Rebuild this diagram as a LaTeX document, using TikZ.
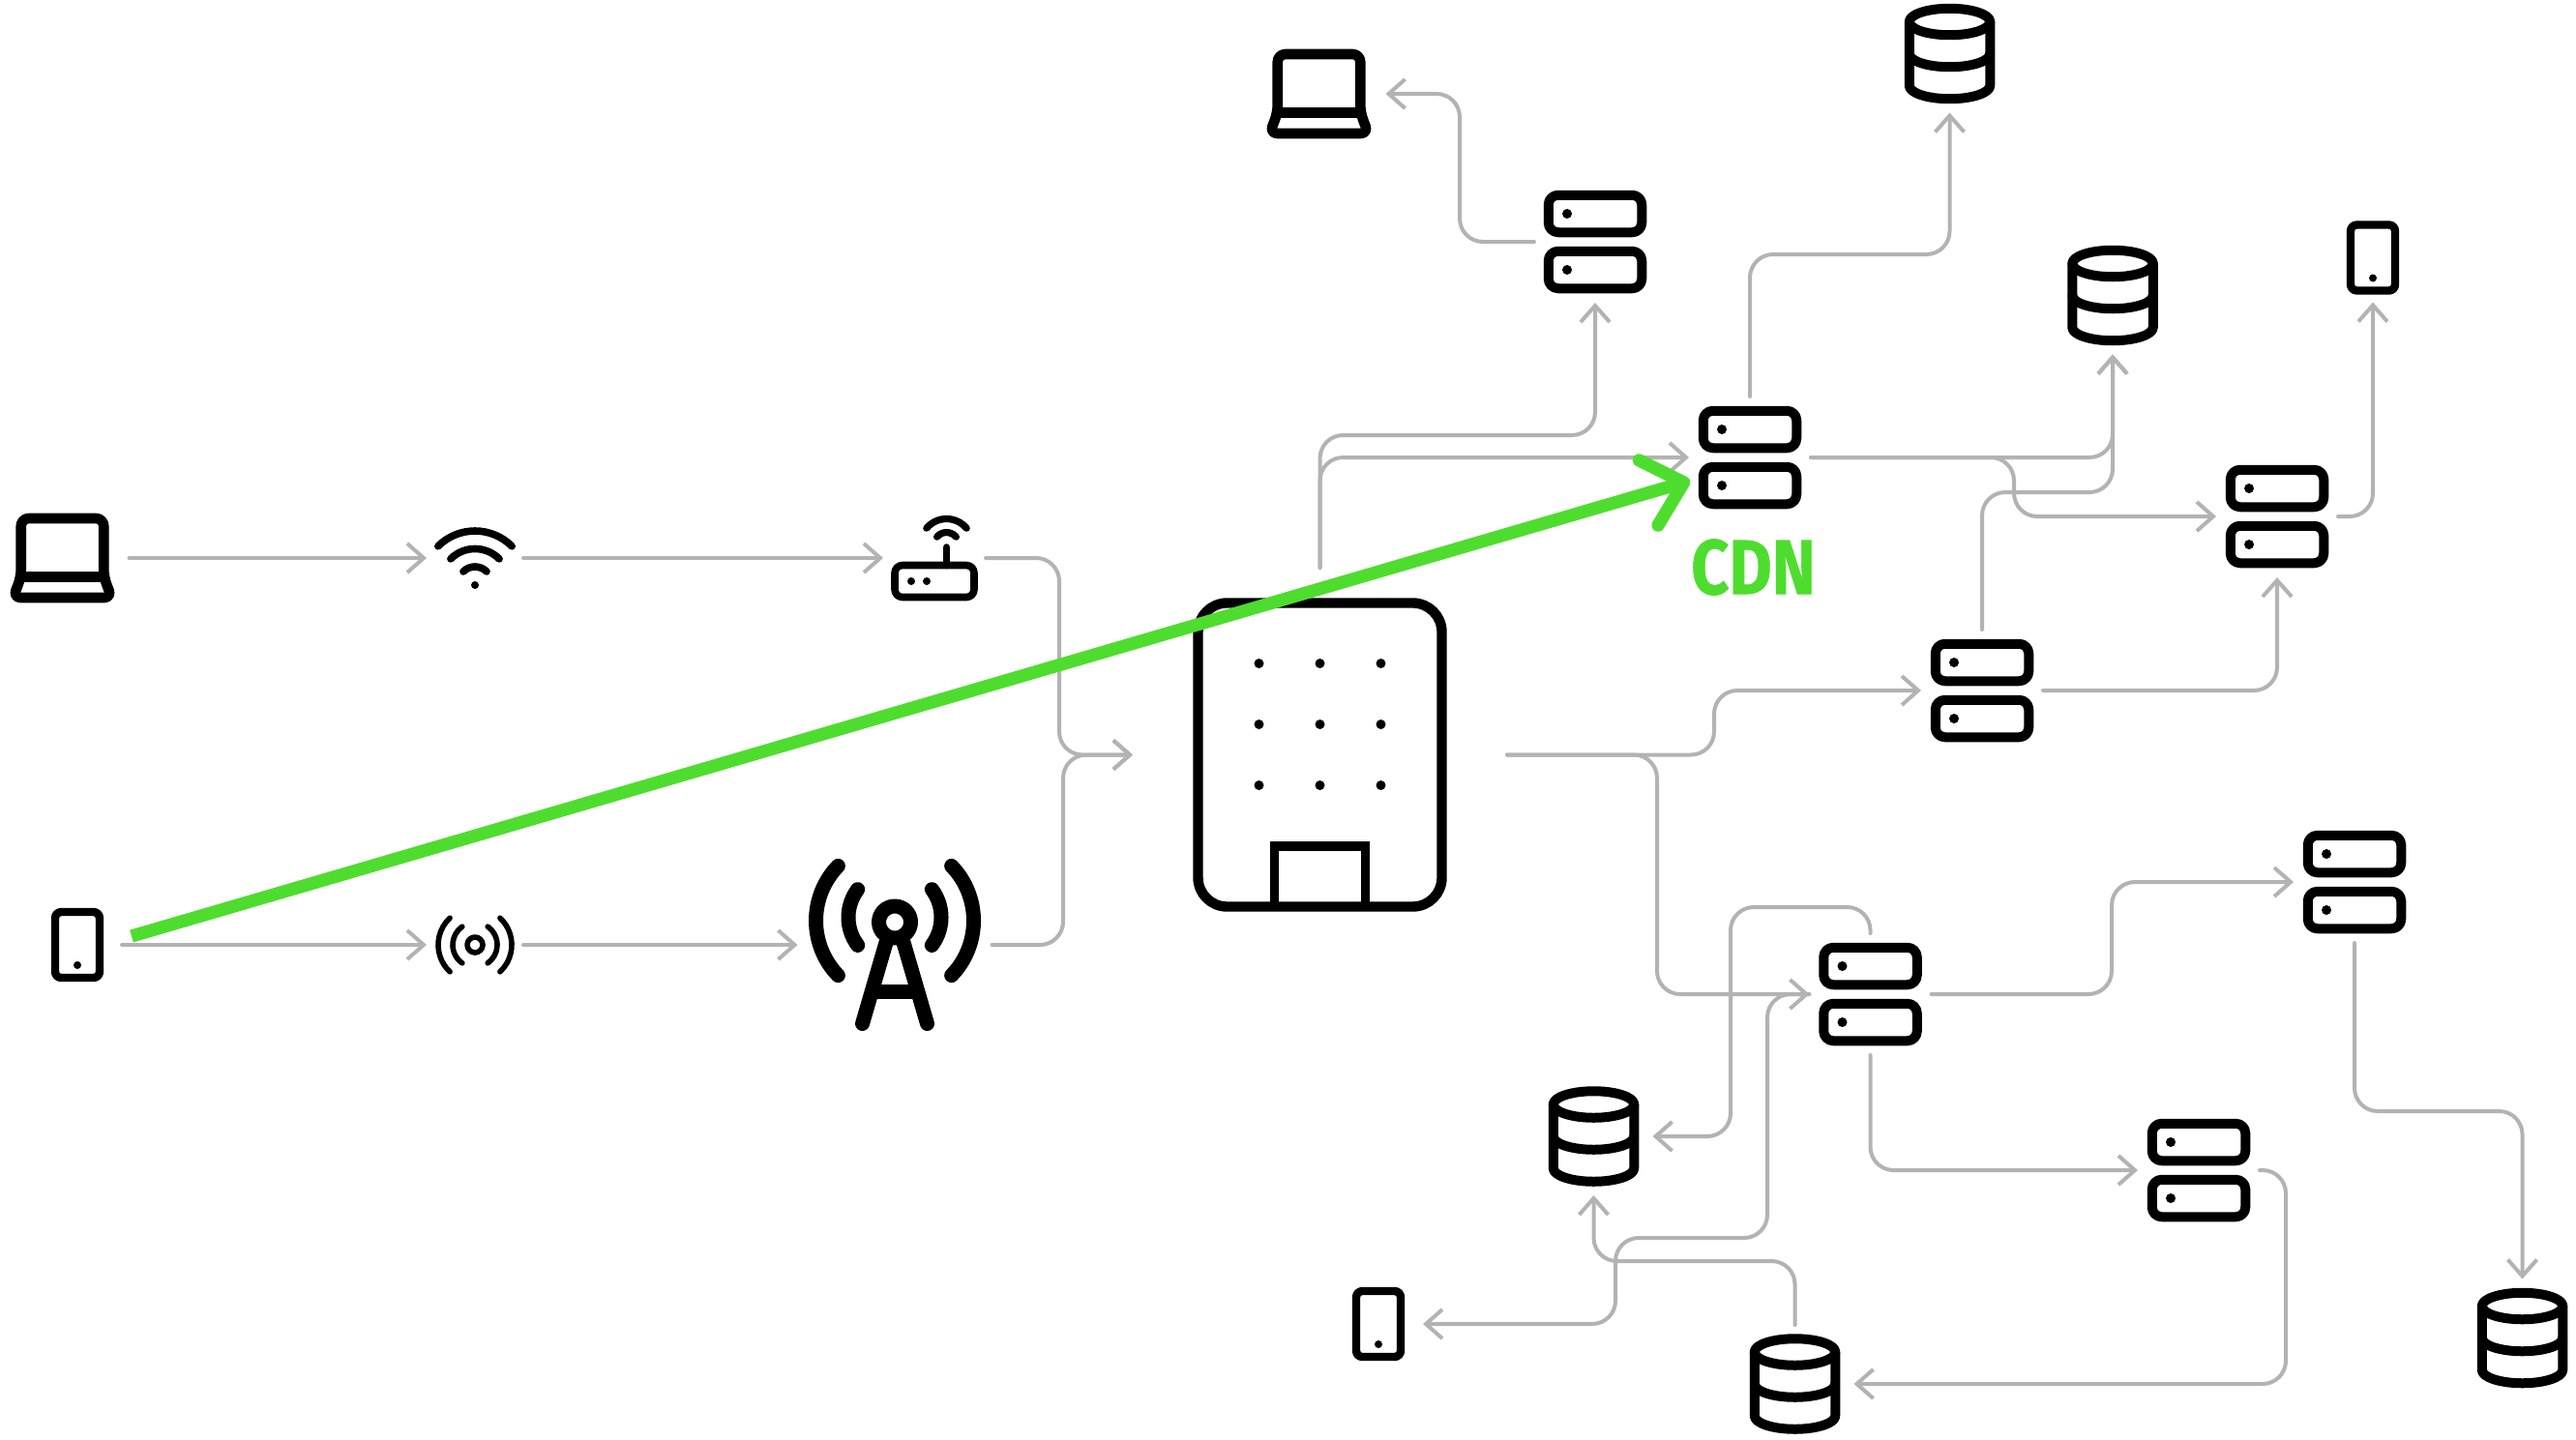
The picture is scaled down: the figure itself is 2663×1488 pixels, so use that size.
\documentclass[tikz,border=0pt]{standalone}
\usepackage{fontspec}
\usetikzlibrary{arrows.meta}
\usepackage{xcolor}
\definecolor{accent}{RGB}{78,221,46}
\definecolor{wire}{RGB}{179,179,179}
\newfontfamily\cdnfont[FakeStretch=0.85,FakeBold=0.8]{Fira Sans}
\tikzset{
  netlink/.style={draw=wire, line width=1pt, line cap=round, rounded corners=6pt,
    -{Straight Barb[length=4.25pt,width=7.5pt]}},
  cdnlink/.style={draw=accent, line width=3.3pt,
    -{Straight Barb[length=9.5pt,width=17.5pt,round]}},
  anchorbox/.style={inner sep=0pt, outer sep=0pt, draw=none},
  serverbox/.style={anchorbox, minimum width=31.5pt, minimum height=31.5pt},
  dbbox/.style={anchorbox, minimum width=30.5pt, minimum height=30.5pt},
  phonebox/.style={anchorbox, minimum width=23pt, minimum height=23pt},
  laptopbox/.style={anchorbox, minimum width=34.5pt, minimum height=34.5pt},
  wifibox/.style={anchorbox, minimum width=25pt, minimum height=25pt},
  routerbox/.style={anchorbox, minimum width=26.5pt, minimum height=26.5pt},
  towerbox/.style={anchorbox, minimum width=50.25pt, minimum height=50.25pt},
  buildingbox/.style={anchorbox, minimum width=96.75pt, minimum height=96.75pt},
  icon/.style={draw=black, line width=2.5pt, line join=round, line cap=round},
  pics/serverpic/.style={code={
    \draw[icon, rounded corners=2.5pt] (-48.25,-48.25) rectangle (48.25,-9.75);
    \draw[icon, rounded corners=2.5pt] (-48.25,9.75) rectangle (48.25,48.25);
    \fill (-29,-29) circle[radius=5];
    \fill (-29,29) circle[radius=5];
  }},
  pics/dbpic/.style={code={
    \draw[icon] (0,-33) circle[x radius=41.75, y radius=13.75];
    \draw[icon] (-41.75,-33) -- (-41.75,33) arc[start angle=180, end angle=0, x radius=41.75, y radius=13.75] -- (41.75,-33);
    \draw[icon] (-41.75,0) arc[start angle=180, end angle=0, x radius=41.75, y radius=13.75];
  }},
  pics/laptoppic/.style={code={
    \draw[icon, line width=2.65pt, rounded corners=2pt] (-42.75,19.5) -- (-42.75,-41) -- (42.75,-41) -- (42.75,19.5) -- (51,41) -- (-51,41) -- cycle;
    \draw[icon, line width=2.65pt] (-42.75,19.5) -- (42.75,19.5);
  }},
  pics/phonepic/.style={code={
    \draw[icon, line width=2.1pt, rounded corners=1.6pt] (-23,-34) rectangle (23,34);
    \fill (0,21) circle[radius=4];
  }},
  pics/wifipic/.style={code={
    \draw[icon, line width=1.9pt] (0,26) ++(-135:54) arc[start angle=-135, end angle=-45, radius=54];
    \draw[icon, line width=1.9pt] (0,26) ++(-135:35.5) arc[start angle=-135, end angle=-45, radius=35.5];
    \draw[icon, line width=1.9pt] (0,26) ++(-135:17) arc[start angle=-135, end angle=-45, radius=17];
    \fill (0,28) circle[radius=4];
  }},
  pics/routerpic/.style={code={
    \draw[icon, line width=1.9pt, rounded corners=2pt] (-41,7.5) rectangle (41,40.5);
    \draw[icon, line width=1.9pt] (12.5,7.5) -- (12.5,-11);
    \draw[icon, line width=1.8pt] (12.5,-13.5) ++(-140:27) arc[start angle=-140, end angle=-40, radius=27];
    \draw[icon, line width=1.8pt] (12.5,-13.5) ++(-140:13) arc[start angle=-140, end angle=-40, radius=13];
    \fill (-24,24) circle[radius=4];
    \fill (-8,24) circle[radius=4];
  }},
  pics/signalpic/.style={code={
    \draw[icon, line width=1.4pt] (0,0) circle[radius=8];
    \draw[icon, line width=1.4pt] (125:23) arc[start angle=125, end angle=235, radius=23];
    \draw[icon, line width=1.4pt] (-55:23) arc[start angle=-55, end angle=55, radius=23];
    \draw[icon, line width=1.4pt] (133:38) arc[start angle=133, end angle=227, radius=38];
    \draw[icon, line width=1.4pt] (-47:38) arc[start angle=-47, end angle=47, radius=38];
  }},
  pics/towerpic/.style={code={
    \draw[icon, line width=3.75pt] (0,-23.5) circle[radius=16.5];
    \draw[icon, line width=3.75pt] (0,-28.5) ++(143:48) arc[start angle=143, end angle=217, radius=48];
    \draw[icon, line width=3.75pt] (0,-28.5) ++(-37:48) arc[start angle=-37, end angle=37, radius=48];
    \draw[icon, line width=3.75pt] (0,-25) ++(136:81.5) arc[start angle=136, end angle=224, radius=81.5];
    \draw[icon, line width=3.75pt] (0,-25) ++(-44:81.5) arc[start angle=-44, end angle=44, radius=81.5];
    \draw[icon, line width=3.75pt] (-9,-2.5) -- (-33.5,81.5);
    \draw[icon, line width=3.75pt] (9,-2.5) -- (33.5,81.5);
    \draw[icon, line width=3.75pt] (-20,48) -- (20,48);
  }},
  pics/buildingpic/.style={code={
    \draw[icon, line width=2.6pt, rounded corners=7.5pt] (-126,-157) rectangle (126,157);
    \draw[icon, line width=2.3pt, line cap=butt, line join=miter] (-47,157) -- (-47,94.5) -- (47,94.5) -- (47,157);
    \foreach \dx in {-63,0,63}
      \foreach \dy in {-94.5,-31.5,31.5}
        \fill (\dx,\dy) circle[radius=5];
  }},
}

\begin{document}
\begin{tikzpicture}[x=0.25pt, y=-0.25pt]
  \path[fill=white, use as bounding box] (0,0) rectangle (2663,1488);

  % icons
  \foreach \name/\x/\y in {srvTop/1649/250, srvCdn/1809/473, srvRight/2354/534, srvMid/2049/714,
      srvLow/1933.5/1028, srvUp/2434/912, srvSm/2273/1210} {
    \node[serverbox] (\name) at (\x,\y) {};
    \pic at (\name) {serverpic};
  }
  \foreach \name/\x/\y in {dbTop/2015.5/55.5, dbMid/2184/305.5, dbLow/1647.5/1175,
      dbBot/1855.5/1431, dbFar/2607.5/1383.5} {
    \node[dbbox] (\name) at (\x,\y) {};
    \pic at (\name) {dbpic};
  }
  \foreach \name/\x/\y in {phoneTop/2453/266.5, phoneBot/1425/1369, phoneLeft/80/977} {
    \node[phonebox] (\name) at (\x,\y) {};
    \pic at (\name) {phonepic};
  }
  \foreach \name/\x/\y in {lapTop/1363.5/97, lapLeft/64.5/577} {
    \node[laptopbox] (\name) at (\x,\y) {};
    \pic at (\name) {laptoppic};
  }
  \node[wifibox] (wifi) at (491,577) {};
  \pic at (wifi) {wifipic};
  \node[routerbox] (router) at (966,577) {};
  \pic at (router) {routerpic};
  \node[wifibox] (signal) at (491,977) {};
  \pic at (signal) {signalpic};
  \node[towerbox] (tower) at (925,977) {};
  \pic at (tower) {towerpic};
  \node[buildingbox] (building) at (1364.5,780.5) {};
  \pic at (building) {buildingpic};

  % left side
  \draw[netlink] (lapLeft.east) -- (wifi.west);
  \draw[netlink] (wifi.east) -- (router.west);
  \draw[netlink] (phoneLeft.east) -- (signal.west);
  \draw[netlink] (signal.east) -- (tower.west);
  \draw[netlink] (router.east) -| (1095,780.5) -- (building.west);
  \draw[netlink] (tower.east) -| (1099,780.5) -- (building.west);

  % upper right
  \draw[netlink] (building.north) |- (1649,450) -- (srvTop.south);
  \draw[netlink] (building.north) |- (srvCdn.west);
  \draw[netlink] (building.east) -| (1772,714) -- (srvMid.west);
  \draw[netlink] (srvTop.west) -| (1509,97) -- (lapTop.east);
  \draw[netlink] (srvCdn.north) |- (2015.5,263) -- (dbTop.south);
  \draw[netlink] (srvCdn.east) -| (dbMid.south);
  \draw[netlink] (srvCdn.east) -| (2082,534) -- (srvRight.west);
  \draw[netlink] (srvMid.north) |- (2184,509) -- (dbMid.south);
  \draw[netlink] (srvMid.east) -| (srvRight.south);
  \draw[netlink] (srvRight.east) -| (phoneTop.south);

  % lower right
  \draw[netlink] (building.east) -| (1713,1028) -- (srvLow.west);
  \draw[netlink] (srvLow.north) |- (1789,938) |- (dbLow.east);
  \draw[netlink] (srvLow.east) -| (2183,912) -- (srvUp.west);
  \draw[netlink] (srvLow.south) |- (srvSm.west);
  \draw[netlink] (srvUp.south) |- (2607.5,1149) -- (dbFar.north);
  \draw[netlink] (srvSm.east) -| (2363,1431) -- (dbBot.east);
  \draw[netlink] (dbBot.north) |- (1647.5,1304) -- (dbLow.south);
  \draw[netlink] (srvLow.west) -| (1827,1280) -- (1670,1280) |- (phoneBot.east);

  % cdn route
  \coordinate (cdnStart) at (136,968);
  \coordinate (cdnTip) at (1747,497);
  \draw[cdnlink] (cdnStart) -- (cdnTip);
  \node[anchor=center, text=accent, inner sep=0pt] (cdnLabel) at (1812.5,586.5)
    {\fontsize{20pt}{20pt}\cdnfont\bfseries CDN};
\end{tikzpicture}
\end{document}
